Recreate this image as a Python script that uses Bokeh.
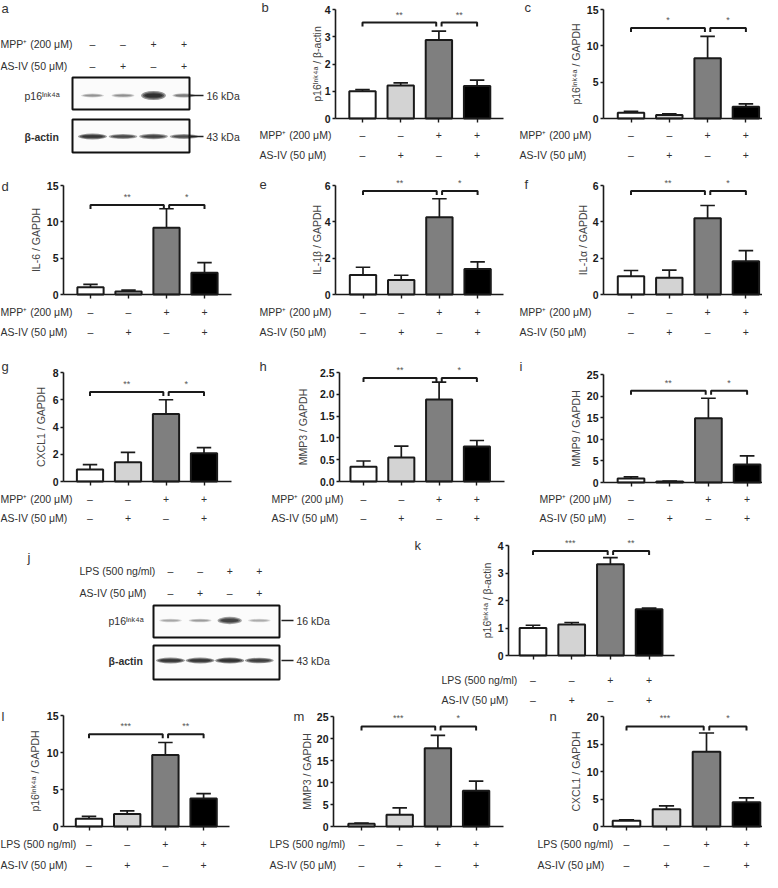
import math
from bokeh.plotting import figure
from bokeh.models import Range1d, FixedTicker, PrintfTickFormatter
from bokeh.layouts import row, column
from bokeh.embed import file_html
from bokeh.resources import INLINE
from bokeh.core.properties import value

FONT = "Liberation Sans"
INK = "#1a1a1a"
TEXT = "#303030"

# ---------------- shared categories ----------------
lanes = [0, 1, 2, 3]
bar_colors = ["#ffffff", "#d3d3d3", "#7f7f7f", "#000000"]
mpp_signs = ["–", "–", "+", "+"]
lps_signs = ["–", "–", "+", "+"]
asiv_signs = ["–", "+", "–", "+"]
MPP_NAME = "MPP⁺ (200 μM)"
LPS_NAME = "LPS (500 ng/ml)"
ASIV_NAME = "AS-IV (50 μM)"
P16 = "p16ᴵⁿᵏ⁴ᵃ"
comparisons = [(0, 2), (2, 3)]

# ---------------- bar chart values (mean, error) ----------------
b_mean = [1.00, 1.21, 2.88, 1.19]; b_err = [0.06, 0.10, 0.33, 0.22]
c_mean = [0.78, 0.48, 8.30, 1.60]; c_err = [0.22, 0.15, 3.00, 0.40]
d_mean = [1.00, 0.42, 9.20, 3.00]; d_err = [0.40, 0.18, 2.60, 1.40]
e_mean = [1.08, 0.80, 4.25, 1.40]; e_err = [0.42, 0.26, 1.02, 0.40]
f_mean = [1.00, 0.92, 4.20, 1.83]; f_err = [0.32, 0.42, 0.70, 0.58]
g_mean = [0.88, 1.42, 4.95, 2.08]; g_err = [0.36, 0.72, 1.05, 0.40]
h_mean = [0.34, 0.55, 1.88, 0.80]; h_err = [0.13, 0.26, 0.40, 0.14]
i_mean = [0.95, 0.25, 14.9, 4.15]; i_err = [0.35, 0.08, 4.60, 2.00]
k_mean = [1.00, 1.13, 3.32, 1.68]; k_err = [0.10, 0.07, 0.24, 0.04]
l_mean = [1.05, 1.70, 9.65, 3.80]; l_err = [0.32, 0.40, 1.70, 0.65]
m_mean = [0.60, 2.65, 17.8, 8.10]; m_err = [0.20, 1.60, 2.90, 2.20]
n_mean = [1.03, 3.15, 13.6, 4.40]; n_err = [0.18, 0.60, 3.40, 0.80]

b_stars = ["**", "**"]; c_stars = ["*", "*"]; d_stars = ["**", "*"]
e_stars = ["**", "*"]; f_stars = ["**", "*"]; g_stars = ["**", "*"]
h_stars = ["**", "*"]; i_stars = ["**", "*"]; k_stars = ["***", "**"]
l_stars = ["***", "**"]; m_stars = ["***", "*"]; n_stars = ["***", "*"]

# ---------------- western blot band intensities ----------------
a_p16_band = [0.38, 0.40, 1.00, 0.50]
a_actin_band = [0.95, 0.80, 0.85, 0.78]
j_p16_band = [0.30, 0.35, 0.85, 0.28]
j_actin_band = [0.95, 0.95, 1.00, 0.90]

# ---------------- layout (reference pixel frame) ----------------
# row: (top on page, height, vertical shift from reference)
ROWS = {1: (0, 168, 1), 2: (168, 182, 9), 3: (350, 180, 15), 4: (530, 177, 18), 5: (707, 165, 18)}


def geo(rownum, col, width, axis_x, end_x, zero_y, top_y, bar0_x, spacing,
        bracket, letter, name_x, rows_y, ylab_x):
    rt, h, sh = ROWS[rownum]
    return dict(row_top=rt, height=h, shift=sh, col=col, width=width, axis_x=axis_x,
                end_x=end_x, zero_y=zero_y, top_y=top_y, bar0_x=bar0_x,
                spacing=spacing, bracket=bracket, letter=letter, name_x=name_x,
                rows_y=rows_y, ylab_x=ylab_x)


def txt(p, xs, ys, texts, size="10.5px", align="left", style="normal", color=TEXT, angle=0.0):
    p.text(x=xs, y=ys, text=texts, text_font=value(FONT), text_font_size=size,
           text_font_style=style, text_align=align, text_baseline="middle",
           text_color=color, angle=angle)


def bar_panel(letter, mean, err, ymax, ticks, ylabel, stars, names, signs, g, fmt=None):
    sp = g["spacing"]
    ppu = (g["zero_y"] - g["top_y"]) / ymax

    def dx(rx):
        return (rx - g["bar0_x"]) / sp

    def dy(ry):
        return (g["zero_y"] - ry) / ppu

    left_ref = 4 + g["col"]
    top_ref = g["shift"] + g["row_top"]
    p = figure(width=g["width"], height=g["height"],
               x_range=Range1d(dx(left_ref), dx(left_ref + g["width"])),
               y_range=Range1d(dy(top_ref + g["height"]), dy(top_ref)),
               output_backend="svg", toolbar_location=None, min_border=0)
    p.outline_line_color = None
    p.grid.visible = False
    p.background_fill_color = "white"
    p.border_fill_color = "white"

    # error bars (upper whisker only) and bars
    tops = [m + e for m, e in zip(mean, err)]
    cap = 0.19
    p.segment(x0=lanes, y0=mean, x1=lanes, y1=tops, line_color=INK, line_width=1.7)
    p.segment(x0=[x - cap for x in lanes], y0=tops, x1=[x + cap for x in lanes], y1=tops,
              line_color=INK, line_width=1.7)
    p.vbar(x=lanes, top=mean, bottom=0, width=0.69, fill_color=bar_colors,
           line_color=INK, line_width=2)

    # significance brackets
    yb = g["bracket"] * ymax
    tick = 4 / ppu
    bx, by, sx = [], [], []
    for a, b in comparisons:
        xa = a + (0.07 if a == 2 else 0)
        xb = b - (0.07 if b == 2 else 0)
        bx.append([xa, xa, xb, xb])
        by.append([yb - tick, yb, yb, yb - tick])
        sx.append((xa + xb) / 2)
    p.multi_line(xs=bx, ys=by, line_color=INK, line_width=2)
    txt(p, sx, [yb + 8 / ppu] * 2, stars, size="9px", align="center", color="#555555")

    # y axis (library axis, pinned at the frame position of the reference axis)
    yax = p.yaxis[0]
    yax.fixed_location = dx(g["axis_x"])
    yax.ticker = FixedTicker(ticks=ticks)
    yax.bounds = (0, ymax)
    if fmt:
        yax.formatter = PrintfTickFormatter(format=fmt)
    yax.major_label_text_font = FONT
    yax.major_label_text_font_style = "bold"
    yax.major_label_text_font_size = "10.5px"
    yax.major_label_text_color = INK
    yax.major_tick_out = 3
    yax.major_tick_in = 0
    yax.minor_tick_out = 0
    yax.minor_tick_in = 0
    yax.major_label_standoff = 2
    yax.axis_line_width = 1.6
    yax.axis_line_color = INK
    yax.major_tick_line_width = 1.6
    yax.major_tick_line_color = INK

    # x axis: ticks under the bars, first treatment row as its labels
    xax = p.xaxis[0]
    xax.fixed_location = 0
    xax.bounds = (dx(g["axis_x"]), dx(g["end_x"]))
    xax.ticker = FixedTicker(ticks=lanes)
    xax.major_label_overrides = {i: s for i, s in zip(lanes, signs[0])}
    xax.major_label_text_font = FONT
    xax.major_label_text_font_size = "10.5px"
    xax.major_label_text_color = TEXT
    xax.major_label_standoff = max(g["rows_y"][0] - g["zero_y"] - 10, 0)
    xax.major_tick_out = 4
    xax.major_tick_in = 0
    xax.minor_tick_out = 0
    xax.minor_tick_in = 0
    xax.axis_line_width = 1.6
    xax.axis_line_color = INK
    xax.major_tick_line_width = 1.4
    xax.major_tick_line_color = INK

    # y label, panel letter, treatment table
    txt(p, [dx(g["ylab_x"])], [ymax / 2], [ylabel], size="10.5px", align="center",
        color="#444444", angle=math.pi / 2)
    txt(p, [dx(max(g["letter"][0], 5))], [dy(g["letter"][1])], [letter], size="13px",
        color="#333333")
    nx = dx(max(g["name_x"], 4))
    txt(p, [nx, nx], [dy(r) for r in g["rows_y"]], names)
    txt(p, lanes, [dy(g["rows_y"][1])] * 4, signs[1], align="center")
    return p


def blot_panel(letter, rownum, col, width, names, signs, p16_band, actin_band, s):
    rt, h, sh = ROWS[rownum]
    X0 = 4 + col
    Y0 = sh + rt
    p = figure(width=width, height=h, x_range=Range1d(X0, X0 + width),
               y_range=Range1d(Y0 + h, Y0), output_backend="svg", toolbar_location=None,
               x_axis_location=None, y_axis_location=None, min_border=0)
    p.outline_line_color = None
    p.grid.visible = False
    lane_x = [s["lane0"] + s["lane_w"] * i for i in lanes]

    txt(p, [max(s["letter"][0], 5)], [s["letter"][1]], [letter], size="13px", color="#333333")
    nx = max(s["name_x"], 4)
    txt(p, [nx, nx], list(s["rows_y"]), names)
    for row_signs, ry in zip(signs, s["rows_y"]):
        txt(p, lane_x, [ry] * 4, row_signs, align="center")

    bl, br = s["box_x"]
    for (bt, bb) in (s["box1_y"], s["box2_y"]):
        p.quad(left=bl, right=br, top=bt, bottom=bb, fill_color="#fbfbfb",
               line_color="#111111", line_width=2)

    for band, by, base_w, base_h, extra in ((p16_band, s["p16_y"], 22, 3.0, 6.0),
                                            (actin_band, s["actin_y"], 26, 3.5, 2.5)):
        for k in range(3):
            p.ellipse(x=lane_x, y=[by] * 4,
                      width=[base_w * (1 + 0.12 * v) * (1 - 0.14 * k) for v in band],
                      height=[(base_h + extra * v * v) * (1 - 0.28 * k) for v in band],
                      fill_color="#000000", fill_alpha=[0.42 * v for v in band],
                      line_color=None)

    txt(p, [s["label_x"]], [s["p16_y"]], [P16])
    txt(p, [s["label_x"]], [s["actin_y"]], ["β-actin"], style="bold")
    mx0, mx1 = s["marker_x"]
    p.segment(x0=[mx0, mx0], y0=[s["p16_y"], s["actin_y"]], x1=[mx1, mx1],
              y1=[s["p16_y"], s["actin_y"]], line_color="#222222", line_width=1.3)
    txt(p, [mx1 + 3, mx1 + 3], [s["p16_y"], s["actin_y"]], ["16 kDa", "43 kDa"])
    return p


a_spec = dict(letter=(5, 9), name_x=3, rows_y=(44, 66), lane0=96, lane_w=30.5,
              box_x=(76, 193), box1_y=(78, 110), box2_y=(120, 153), label_x=28,
              p16_y=96, actin_y=137, marker_x=(193, 207))
j_spec = dict(letter=(31, 575), name_x=83, rows_y=(588, 610), lane0=174, lane_w=29.6,
              box_x=(157, 283), box1_y=(623, 655), box2_y=(663, 697), label_x=112,
              p16_y=638, actin_y=678, marker_x=(285, 297))

MPP_ROWS = [MPP_NAME, ASIV_NAME]
LPS_ROWS = [LPS_NAME, ASIV_NAME]
MPP_SIGNS = [mpp_signs, asiv_signs]
LPS_SIGNS = [lps_signs, asiv_signs]

pa = blot_panel("a", 1, 0, 254, MPP_ROWS, MPP_SIGNS, a_p16_band, a_actin_band, a_spec)
pb = bar_panel("b", b_mean, b_err, 4, [0, 1, 2, 3, 4], P16 + " / β-actin", b_stars, MPP_ROWS, MPP_SIGNS,
               geo(1, 254, 256, 339, 507, 119, 10, 366, 38.2, 0.88, (265, 8), 263, (135, 155), 320))
pc = bar_panel("c", c_mean, c_err, 15, [0, 5, 10, 15], P16 + " / GAPDH", c_stars, MPP_ROWS, MPP_SIGNS,
               geo(1, 510, 252, 607, 776, 119, 10, 634.5, 38.3, 0.83, (528, 8), 523, (135, 155), 579))
pd = bar_panel("d", d_mean, d_err, 15, [0, 5, 10, 15], "IL-6 / GAPDH", d_stars, MPP_ROWS, MPP_SIGNS,
               geo(2, 0, 254, 67, 235, 303, 194, 94, 38.0, 0.82, (5, 195), 3, (320, 340), 39))
pe = bar_panel("e", e_mean, e_err, 6, [0, 2, 4, 6], "IL-1β / GAPDH", e_stars, MPP_ROWS, MPP_SIGNS,
               geo(2, 254, 256, 339, 507, 303, 194, 366.5, 38.2, 0.95, (263, 193), 263, (320, 340), 320))
pf = bar_panel("f", f_mean, f_err, 6, [0, 2, 4, 6], "IL-1α / GAPDH", f_stars, MPP_ROWS, MPP_SIGNS,
               geo(2, 510, 252, 607, 776, 303, 194, 634.5, 38.3, 0.95, (528, 193), 523, (320, 340), 586))
pg = bar_panel("g", g_mean, g_err, 8, [0, 2, 4, 6, 8], "CXCL1 / GAPDH", g_stars, MPP_ROWS, MPP_SIGNS,
               geo(3, 0, 254, 67, 235, 496, 387, 93.5, 38.0, 0.82, (3, 381), 3, (513, 532), 44))
ph = bar_panel("h", h_mean, h_err, 2.5, [0, 0.5, 1.0, 1.5, 2.0, 2.5], "MMP3 / GAPDH", h_stars,
               MPP_ROWS, MPP_SIGNS,
               geo(3, 254, 256, 343, 508, 496, 387, 367, 37.8, 0.95, (263, 381), 275, (513, 532), 306),
               fmt="%.1f")
pi = bar_panel("i", i_mean, i_err, 25, [0, 5, 10, 15, 20, 25], "MMP9 / GAPDH", i_stars, MPP_ROWS,
               MPP_SIGNS,
               geo(3, 510, 252, 607, 776, 497, 389, 634.5, 38.7, 0.85, (523, 381), 543, (513, 532), 579))
pj = blot_panel("j", 4, 0, 400, LPS_ROWS, LPS_SIGNS, j_p16_band, j_actin_band, j_spec)
pk = bar_panel("k", k_mean, k_err, 4, [0, 1, 2, 3, 4], P16 + " / β-actin", k_stars, LPS_ROWS, LPS_SIGNS,
               geo(4, 400, 362, 512, 678, 673, 563, 536.5, 38.7, 0.95, (418, 563), 445, (697, 717), 490))
pl = bar_panel("l", l_mean, l_err, 15, [0, 5, 10, 15], P16 + " / GAPDH", l_stars, LPS_ROWS, LPS_SIGNS,
               geo(5, 0, 254, 67, 233, 844, 733, 92.5, 38.2, 0.83, (3, 734), 0, (861, 882), 38))
pm = bar_panel("m", m_mean, m_err, 25, [0, 5, 10, 15, 20, 25], "MMP3 / GAPDH", m_stars, LPS_ROWS,
               LPS_SIGNS,
               geo(5, 254, 256, 337, 507, 844, 734, 365, 38.2, 0.91, (297, 734), 273, (861, 882), 310))
pn = bar_panel("n", n_mean, n_err, 20, [0, 5, 10, 15, 20], "CXCL1 / GAPDH", n_stars, LPS_ROWS,
               LPS_SIGNS,
               geo(5, 510, 252, 607, 776, 844, 734, 630, 40.0, 0.91, (553, 734), 541, (861, 882), 579))

layout = column(row(pa, pb, pc), row(pd, pe, pf), row(pg, ph, pi), row(pj, pk), row(pl, pm, pn))

with open("out.html", "w") as fh:
    fh.write(file_html(layout, INLINE))
